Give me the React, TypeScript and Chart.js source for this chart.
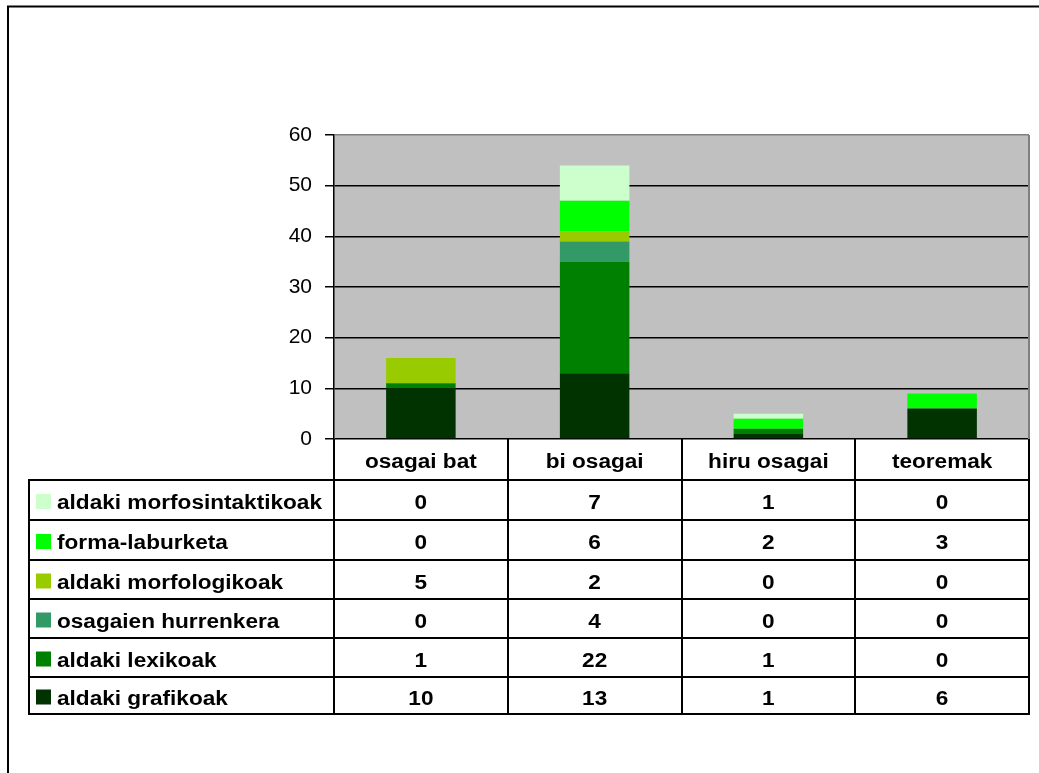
import React, { useEffect, useRef } from 'react';
import { Chart, registerables } from 'chart.js';

Chart.register(...registerables);

const categories = ['osagai bat', 'bi osagai', 'hiru osagai', 'teoremak'];
const seriesNames = [
  'aldaki grafikoak',
  'aldaki lexikoak',
  'osagaien hurrenkera',
  'aldaki morfologikoak',
  'forma-laburketa',
  'aldaki morfosintaktikoak',
];
const grafikoak = [10, 13, 1, 6];
const lexikoak = [1, 22, 1, 0];
const hurrenkera = [0, 4, 0, 0];
const morfologikoak = [5, 2, 0, 0];
const laburketa = [0, 6, 2, 3];
const morfosintaktikoak = [0, 7, 1, 0];
const seriesValues = [grafikoak, lexikoak, hurrenkera, morfologikoak, laburketa, morfosintaktikoak];
const seriesColors = ['#003300', '#008000', '#339966', '#99CC00', '#00FF00', '#CCFFCC'];
const yMin = 0;
const yMax = 60;
const yStep = 10;

const FONT = '"Liberation Sans", Arial, sans-serif';
const STRETCH = 1.13;
const TABLE_LEFT = 29;
const ROW_LINES = [480, 520, 560, 599, 638, 677, 714];

function drawText(ctx: CanvasRenderingContext2D, text: string, x: number, y: number, align: CanvasTextAlign) {
  ctx.save();
  ctx.translate(x, y);
  ctx.scale(STRETCH, 1);
  ctx.textAlign = align;
  ctx.textBaseline = 'alphabetic';
  ctx.fillText(text, 0, 0);
  ctx.restore();
}

const tablePlugin = {
  id: 'dataTable',
  beforeDraw(chart: any) {
    const { ctx, chartArea: a, width, height } = chart;
    ctx.save();
    ctx.fillStyle = '#ffffff';
    ctx.fillRect(0, 0, width, height);
    ctx.fillStyle = '#C0C0C0';
    ctx.fillRect(a.left, a.top, a.right - a.left, a.bottom - a.top);
    ctx.restore();
  },
  afterDraw(chart: any) {
    const { ctx, chartArea: a } = chart;
    const xs = chart.scales.x;
    const n = chart.data.labels.length;
    ctx.save();

    // plot right border (gray)
    ctx.strokeStyle = '#808080';
    ctx.lineWidth = 2;
    ctx.beginPath();
    ctx.moveTo(a.right, a.top);
    ctx.lineTo(a.right, a.bottom);
    ctx.stroke();

    // outer frame
    ctx.strokeStyle = '#000';
    ctx.lineWidth = 2;
    ctx.strokeRect(8, 6.5, 1200, 900);

    // column bounds
    const bounds: number[] = [a.left];
    for (let i = 0; i < n - 1; i++) {
      bounds.push(Math.round((xs.getPixelForValue(i) + xs.getPixelForValue(i + 1)) / 2));
    }
    bounds.push(a.right);
    const bottom = ROW_LINES[ROW_LINES.length - 1];

    ctx.strokeStyle = '#000';
    ctx.lineWidth = 2;
    ctx.beginPath();
    bounds.forEach((x) => {
      ctx.moveTo(x, a.bottom);
      ctx.lineTo(x, bottom + 1);
    });
    ctx.moveTo(TABLE_LEFT, ROW_LINES[0]);
    ctx.lineTo(TABLE_LEFT, bottom + 1);
    ROW_LINES.forEach((y) => {
      ctx.moveTo(TABLE_LEFT - 1, y);
      ctx.lineTo(a.right + 1, y);
    });
    ctx.stroke();

    ctx.fillStyle = '#000';
    ctx.font = `bold 20px ${FONT}`;
    // header
    const headerMid = (a.bottom + ROW_LINES[0]) / 2;
    chart.data.labels.forEach((lab: string, i: number) => {
      const cx = xs.getPixelForValue(i);
      drawText(ctx, lab, cx, headerMid + 8, 'center');
    });

    // rows: top-most series first
    const ds = chart.data.datasets;
    for (let r = 0; r < ds.length; r++) {
      const d = ds[ds.length - 1 - r];
      const top = ROW_LINES[r];
      const bot = ROW_LINES[r + 1];
      const mid = (top + bot) / 2;
      const base = mid + 9;
      ctx.fillStyle = d.backgroundColor;
      ctx.fillRect(36, base - 15, 15, 15);
      ctx.fillStyle = '#000';
      drawText(ctx, d.label, 57, base, 'left');
      d.data.forEach((v: number, i: number) => {
        drawText(ctx, String(v), xs.getPixelForValue(i), base, 'center');
      });
    }
    ctx.restore();
  },
};

export default function App() {
  const ref = useRef<HTMLCanvasElement | null>(null);
  useEffect(() => {
    if (!ref.current) return;
    const chart = new Chart(ref.current, {
      type: 'bar',
      data: {
        labels: categories,
        datasets: seriesNames.map((name, i) => ({
          label: name,
          data: seriesValues[i],
          backgroundColor: seriesColors[i],
          borderWidth: 0,
          categoryPercentage: 1,
          barPercentage: 0.4,
        })),
      },
      options: {
        animation: false,
        responsive: false,
        maintainAspectRatio: false,
        layout: { padding: { left: 274, top: 135, right: 10, bottom: 334 } },
        plugins: {
          legend: { display: false },
          tooltip: { enabled: false },
          title: { display: false },
        },
        scales: {
          x: { stacked: true, display: false },
          y: {
            stacked: true,
            min: yMin,
            max: yMax,
            afterFit: (s: any) => {
              s.width = 60;
            },
            ticks: {
              stepSize: yStep,
              color: '#000',
              padding: 13,
              font: { family: FONT, size: 21 },
            },
            grid: {
              color: (c: any) => (c.tick && c.tick.value === yMax ? '#808080' : '#000'),
              tickColor: '#000',
              lineWidth: 1.5,
              tickLength: 9,
            },
            border: { color: '#000', width: 1.5 },
          },
        },
      },
      plugins: [tablePlugin],
    });
    return () => chart.destroy();
  }, []);
  return (
    <div style={{ position: 'absolute', left: 0, top: 0, width: 1039, height: 773 }}>
      <canvas ref={ref} width={1039} height={773} />
    </div>
  );
}
